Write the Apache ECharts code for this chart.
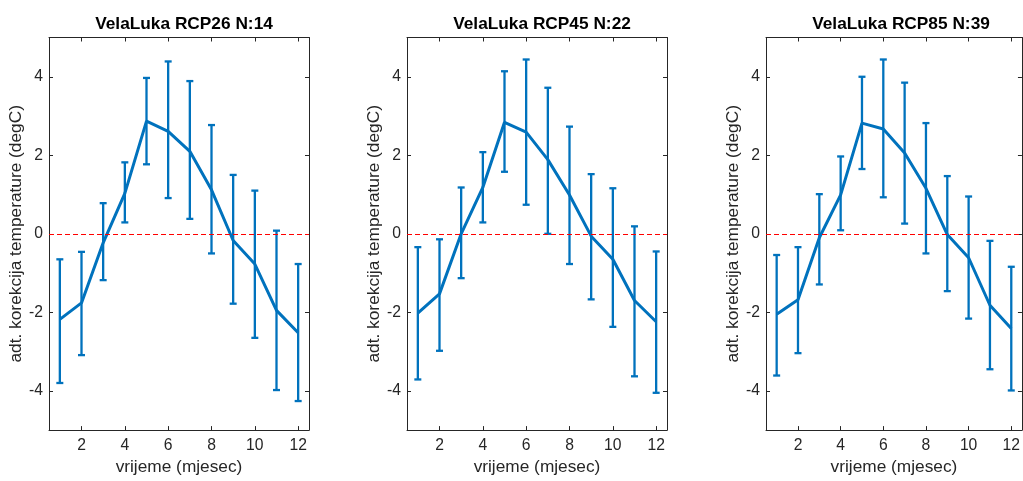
<!DOCTYPE html>
<html>
<head>
<meta charset="utf-8">
<script src="https://cdn.jsdelivr.net/npm/echarts@6/dist/echarts.min.js"></script>
<style>
html,body{margin:0;padding:0;background:#fff;}
#chart{width:1023px;height:481px;}
</style>
</head>
<body>
<div id="chart"></div>
<script>
const months = [1,2,3,4,5,6,7,8,9,10,11,12];
const xTicks = [2,4,6,8,10,12];
const yTicks = [-4,-2,0,2,4];
const titles = ['VelaLuka RCP26 N:14','VelaLuka RCP45 N:22','VelaLuka RCP85 N:39'];
const xName = 'vrijeme (mjesec)';
const yName = 'adt. korekcija temperature (degC)';

const mean26 = [-2.18,-1.76,-0.23,1.03,2.87,2.61,2.10,1.12,-0.17,-0.77,-1.95,-2.52];
const low26  = [-3.80,-3.09,-1.18,0.29,1.77,0.91,0.38,-0.50,-1.78,-2.65,-3.98,-4.26];
const high26 = [-0.65,-0.46,0.78,1.82,3.97,4.39,3.89,2.77,1.50,1.10,0.08,-0.77];

const mean45 = [-2.02,-1.53,0.00,1.18,2.84,2.59,1.89,0.99,-0.06,-0.65,-1.70,-2.24];
const low45  = [-3.71,-2.98,-1.13,0.29,1.58,0.74,0.00,-0.77,-1.67,-2.37,-3.63,-4.05];
const high45 = [-0.34,-0.14,1.18,2.08,4.14,4.44,3.72,2.73,1.52,1.16,0.19,-0.45];

const mean85 = [-2.05,-1.68,-0.10,0.99,2.82,2.67,2.06,1.16,-0.02,-0.61,-1.82,-2.41];
const low85  = [-3.61,-3.04,-1.29,0.09,1.65,0.93,0.26,-0.50,-1.46,-2.16,-3.45,-3.99];
const high85 = [-0.54,-0.34,1.01,1.97,4.00,4.44,3.85,2.82,1.47,0.95,-0.18,-0.84];

const panels = [
  {title: titles[0], mean: mean26, low: low26, high: high26},
  {title: titles[1], mean: mean45, low: low45, high: high45},
  {title: titles[2], mean: mean85, low: low85, high: high85}
];

const BLUE = '#0072BD';
const AX = '#262626';
const FONT = '"Liberation Sans", Arial, Helvetica, sans-serif';
const lefts = [49, 407, 766];
const W = 260, TOP = 37.5, H = 397;

const option = {
  animation: false,
  backgroundColor: '#fff',
  title: [], grid: [], xAxis: [], yAxis: [], series: []
};

panels.forEach((p, i) => {
  option.title.push({
    text: p.title, left: lefts[i] + W/2, top: 11, textAlign: 'center',
    textStyle: {fontFamily: FONT, fontSize: 17.3, fontWeight: 'bold', color: '#000'}
  });
  option.grid.push({left: lefts[i], top: TOP, width: W, height: H, containLabel: false});
  const axLine = {show: true, onZero: false, lineStyle: {color: AX, width: 1}};
  const tick = (vals) => ({show: true, inside: true, length: 4, customValues: vals, lineStyle: {color: AX, width: 1}});
  option.xAxis.push({
    type: 'value', gridIndex: i, min: 0.5, max: 12.5, position: 'bottom',
    name: xName, nameLocation: 'middle', nameGap: 28,
    nameTextStyle: {fontFamily: FONT, fontSize: 17.3, color: AX},
    axisLine: axLine, axisTick: tick(xTicks),
    axisLabel: {customValues: xTicks, margin: 8, fontFamily: FONT, fontSize: 15.7, color: AX},
    splitLine: {show: false}
  });
  option.xAxis.push({
    type: 'value', gridIndex: i, min: 0.5, max: 12.5, position: 'top',
    axisLine: axLine, axisTick: tick(xTicks), axisLabel: {show: false}, splitLine: {show: false}
  });
  option.yAxis.push({
    type: 'value', gridIndex: i, min: -5, max: 5, position: 'left',
    name: yName, nameLocation: 'middle', nameGap: 23, nameRotate: 90,
    nameTextStyle: {fontFamily: FONT, fontSize: 17.3, color: AX},
    axisLine: axLine, axisTick: tick(yTicks),
    axisLabel: {customValues: yTicks, margin: 6, fontFamily: FONT, fontSize: 15.7, color: AX},
    splitLine: {show: false}
  });
  option.yAxis.push({
    type: 'value', gridIndex: i, min: -5, max: 5, position: 'right',
    axisLine: axLine, axisTick: tick(yTicks), axisLabel: {show: false}, splitLine: {show: false}
  });

  const xi = i * 2, yi = i * 2;
  option.series.push({
    type: 'custom', xAxisIndex: xi, yAxisIndex: yi,
    data: months.map((m, k) => [m, p.low[k], p.high[k]]),
    renderItem: function (params, api) {
      const x = api.value(0);
      const lo = api.coord([x, api.value(1)]);
      const hi = api.coord([x, api.value(2)]);
      const hw = 3.5;
      const st = {stroke: BLUE, lineWidth: 2.3};
      return {
        type: 'group',
        children: [
          {type: 'line', shape: {x1: lo[0], y1: lo[1], x2: hi[0], y2: hi[1]}, style: st},
          {type: 'line', shape: {x1: lo[0]-hw, y1: lo[1], x2: lo[0]+hw, y2: lo[1]}, style: st},
          {type: 'line', shape: {x1: hi[0]-hw, y1: hi[1], x2: hi[0]+hw, y2: hi[1]}, style: st}
        ]
      };
    },
    z: 2
  });
  option.series.push({
    type: 'line', xAxisIndex: xi, yAxisIndex: yi,
    data: months.map((m, k) => [m, p.mean[k]]),
    showSymbol: false, symbol: 'none',
    lineStyle: {color: BLUE, width: 3},
    itemStyle: {color: BLUE},
    z: 3,
    markLine: {
      silent: true, symbol: 'none', label: {show: false},
      lineStyle: {color: '#ff0000', width: 1, type: [5, 3]},
      data: [{yAxis: 0}]
    }
  });
});

const chart = echarts.init(document.getElementById('chart'), null, {renderer: 'canvas'});
chart.setOption(option);
</script>
</body>
</html>
